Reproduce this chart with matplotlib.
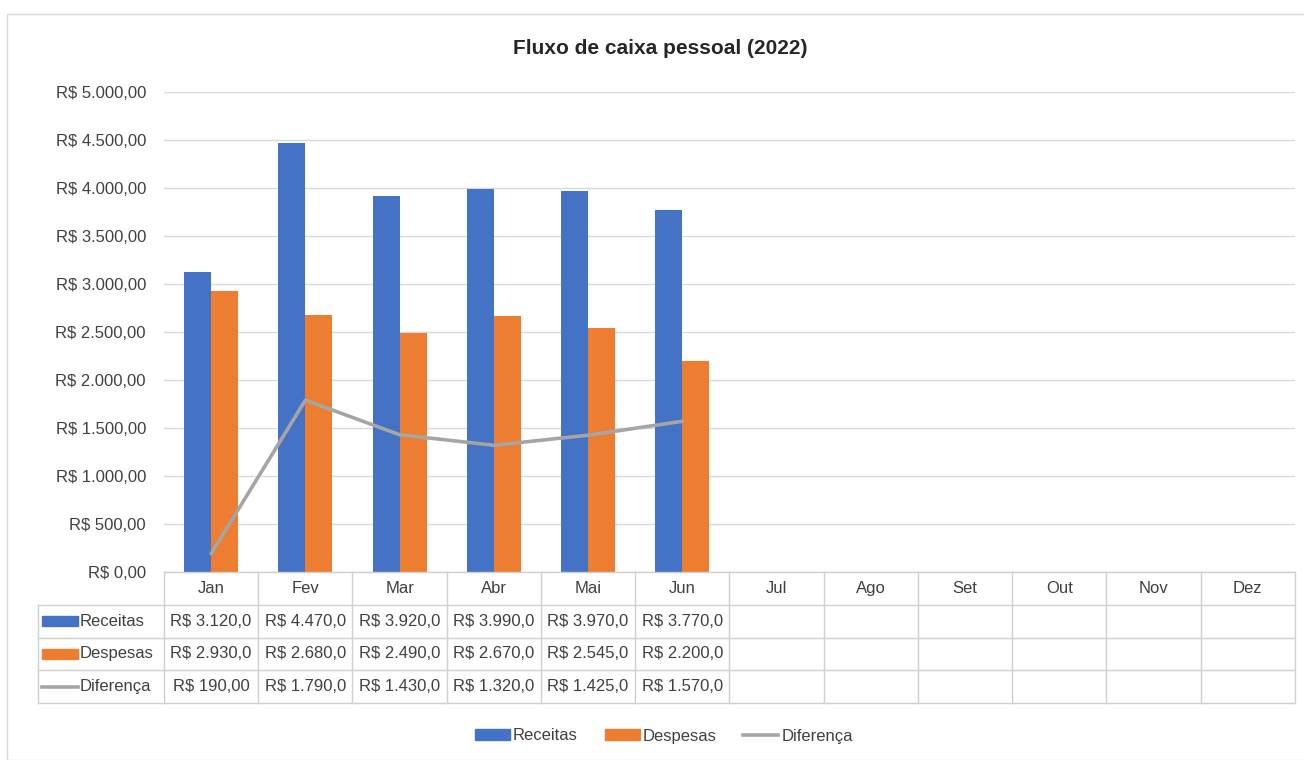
import numpy as np
import matplotlib.pyplot as plt
from matplotlib.patches import Rectangle
from matplotlib.lines import Line2D
from matplotlib.transforms import blended_transform_factory

plt.rcParams['font.family'] = ['Liberation Sans', 'DejaVu Sans']

# data
meses = ["Jan", "Fev", "Mar", "Abr", "Mai", "Jun", "Jul", "Ago", "Set", "Out", "Nov", "Dez"]
receitas = [3120, 4470, 3920, 3990, 3970, 3770]
despesas = [2930, 2680, 2490, 2670, 2545, 2200]
diferenca = [190, 1790, 1430, 1320, 1425, 1570]
yticks = [0, 500, 1000, 1500, 2000, 2500, 3000, 3500, 4000, 4500, 5000]

azul = "#4472C4"
laranja = "#ED7D31"
cinza = "#A5A5A5"
grade = "#D9D9D9"
texto = "#404040"


def reais(v):
    s = f"{v:,.2f}".replace(",", "X").replace(".", ",").replace("X", ".")
    return "R$ " + s


W, H = 1304, 760
fig = plt.figure(figsize=(W / 100, H / 100), dpi=100)

# chart border
fig.patches.append(Rectangle((7 / W, 0), 1.2, 1 - 14 / H, transform=fig.transFigure,
                             fill=False, edgecolor="#D9D9D9", lw=1))

x0, x1 = 164 / W, 1295 / W
ax = fig.add_axes([x0, 1 - 572 / H, x1 - x0, (572 - 92) / H])
x = np.arange(len(meses))
n = len(receitas)
bw = 0.287
ax.bar(x[:n] - bw / 2, receitas, bw, color=azul, zorder=3)
ax.bar(x[:n] + bw / 2, despesas, bw, color=laranja, zorder=3)
ax.plot(x[:n], diferenca, color=cinza, lw=2.6, zorder=4, solid_capstyle="round")

ax.set_xlim(-0.5, len(meses) - 0.5)
ax.set_ylim(0, 5000)
ax.set_yticks(yticks)
ax.set_yticklabels([reais(v) for v in yticks], fontsize=12, color=texto)
ax.tick_params(axis="y", length=0, pad=13)
ax.set_xticks([])
ax.grid(axis="y", color=grade, lw=1, zorder=0)
for s in ax.spines.values():
    s.set_visible(False)
fig.text(660 / W, 1 - 48 / H, "Fluxo de caixa pessoal (2022)", fontsize=15,
         fontweight="bold", color="#262626", ha="center", va="center")

# data table
tb = 703
tax = fig.add_axes([x0, 1 - tb / H, x1 - x0, (tb - 572) / H], sharex=ax)
tax.set_ylim(4, 0)
tax.axis("off")
lc = "#D0D0D0"
left_f = 38 / W
bt = blended_transform_factory(fig.transFigure, tax.transAxes)
# horizontal lines
tax.plot([-0.5, len(meses) - 0.5], [0, 0], color=lc, lw=1, clip_on=False)
for r in [1, 2, 3, 4]:
    yy = 1 - r / 4
    tax.add_line(Line2D([left_f, x1], [yy, yy], transform=bt, color=lc, lw=1, clip_on=False))
# vertical lines
for k in range(len(meses) + 1):
    tax.plot([k - 0.5, k - 0.5], [0, 4], color=lc, lw=1, clip_on=False)
tax.add_line(Line2D([left_f, left_f], [0, 0.75], transform=bt, color=lc, lw=1, clip_on=False))

for i, m in enumerate(meses):
    tax.text(i, 0.5, m, ha="center", va="center", fontsize=12, color=texto)

series = [("Receitas", receitas, azul, "bar"),
          ("Despesas", despesas, laranja, "bar"),
          ("Diferença", diferenca, cinza, "line")]
for r, (nome, vals, cor, tipo) in enumerate(series):
    row = r + 1.5
    yy = 1 - row / 4
    if tipo == "bar":
        fig.patches.append(Rectangle((42 / W, yy - 0.04), 36 / W, 0.08, transform=bt,
                                     color=cor, clip_on=False))
    else:
        tax.add_line(Line2D([42 / W, 78 / W], [yy, yy], transform=bt, color=cor, lw=2.6,
                            clip_on=False))
    tax.text(80 / W, yy, nome, transform=bt, ha="left", va="center", fontsize=12, color=texto)
    for i, v in enumerate(vals):
        tax.text(i, row, reais(v)[:10], ha="center", va="center", fontsize=12, color=texto)

# legend
handles = [Rectangle((0, 0), 1, 1, color=azul),
           Rectangle((0, 0), 1, 1, color=laranja),
           Line2D([], [], color=cinza, lw=2.6)]
fig.legend(handles, ["Receitas", "Despesas", "Diferença"], loc="center",
           bbox_to_anchor=(664 / W, 1 - 736 / H), ncol=3, frameon=False, fontsize=12,
           handlelength=2.1, handleheight=0.6, handletextpad=0.2, columnspacing=1.6,
           labelcolor=texto)

fig.savefig("out.png", dpi=100, facecolor="white")
